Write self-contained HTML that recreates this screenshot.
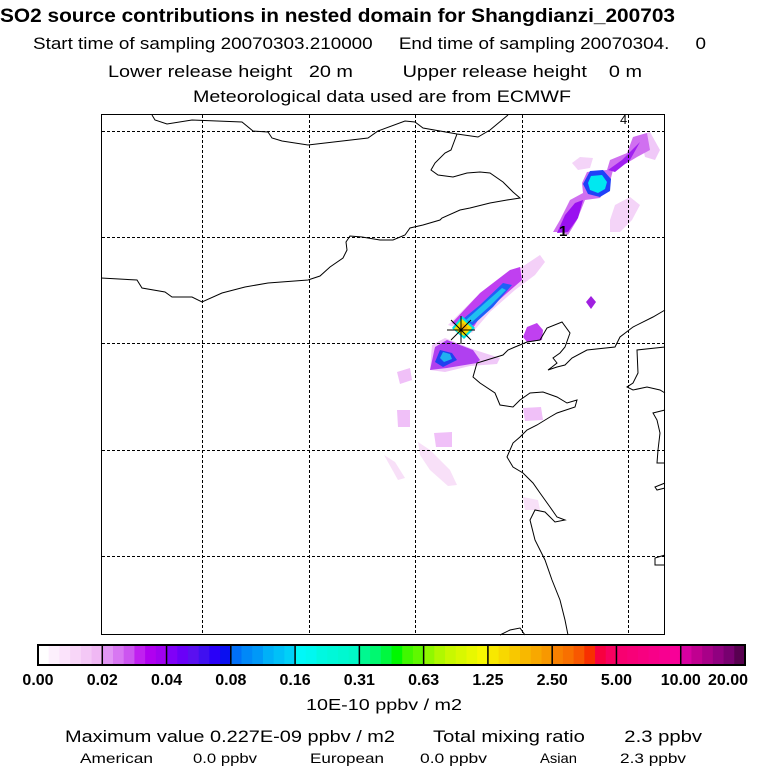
<!DOCTYPE html>
<html><head><meta charset="utf-8"><style>
html,body{margin:0;padding:0;background:#fff;}
svg{display:block;font-family:"Liberation Sans",sans-serif;}
</style></head><body>
<svg id="chart" width="768" height="768" viewBox="0 0 768 768" xmlns="http://www.w3.org/2000/svg">
<g fill="#000">
<text x="0" y="22" font-size="19" font-weight="bold" textLength="675" lengthAdjust="spacingAndGlyphs">SO2 source contributions in nested domain for Shangdianzi_200703</text>
<text x="33" y="49" font-size="17" textLength="673" lengthAdjust="spacingAndGlyphs" xml:space="preserve">Start time of sampling 20070303.210000     End time of sampling 20070304.     0</text>
<text x="108" y="77" font-size="17" textLength="534" lengthAdjust="spacingAndGlyphs" xml:space="preserve">Lower release height   20 m         Upper release height    0 m</text>
<text x="193" y="102" font-size="17" textLength="378" lengthAdjust="spacingAndGlyphs">Meteorological data used are from ECMWF</text>
</g>
<g id="map">
<rect x="101" y="114" width="564" height="521" fill="#fff"/>
<g id="plume"></g>
<g fill="none" stroke="#000" stroke-width="1">
<path d="M152,115 L155,120 L167,124 L192,120 L242,122 L253,131 L268,132 L272,138 L282,141 L308,145 L368,138 L378,131 L405,121 L415,122 L423,128 L457,134 L478,137 L490,130 L508,115"/>
<path d="M457,134 L451,150 L445,153 L435,163 L431,170 L438,175 L453,177 L467,173 L480,172 L490,173 L503,182 L513,192 L520,198 L507,200 L490,203 L470,208 L460,210 L442,218 L440,220 L423,225 L410,228 L405,235 L393,240 L380,240 L362,237 L350,236 L346,242 L347,250 L343,258 L330,267 L320,276 L308,280 L268,283 L245,287 L222,293 L202,302 L192,297 L172,297 L165,292 L142,288 L137,280 L101,278"/>
<path d="M665,310 L653,317 L633,327 L620,337 L615,347 L587,350 L572,358 L565,365 L557,367 L548,370 L552,367 L557,363 L553,358 L560,353 L565,347 L570,333 L562,322 L547,328 L540,340 L527,342 L515,347 L508,350 L503,355 L477,363 L473,377 L480,383 L495,393 L500,405 L513,407 L520,400 L530,393 L543,392 L557,397 L567,403 L577,400 L575,407 L557,413 L550,417 L537,425 L527,430 L520,437 L513,443 L507,457 L513,467 L523,473 L533,483 L540,493 L550,507 L557,517 L565,520 L555,522 L545,512 L535,510 L530,520 L535,540 L545,560 L552,580 L560,600 L565,620 L568,635"/>
<path d="M665,347 L637,350 L638,373 L633,383 L627,387 L633,390 L647,387 L660,390 L665,393"/>
<path d="M665,410 L653,413 L657,420 L660,433 L658,450 L657,463 L665,463"/>
<path d="M665,483 L655,487 L657,490 L665,488"/>
<path d="M665,555 L655,558 L655,565 L665,565"/>
<path d="M525,635 L520,628 L510,630 L500,635"/>
</g>
<g id="grid" stroke="#000" stroke-width="1" stroke-dasharray="3,2"></g>
<rect x="101.5" y="114.5" width="563" height="520" fill="none" stroke="#000" stroke-width="1"/>
<g stroke="#000" stroke-width="1">
<line x1="451" y1="320" x2="471" y2="340"/><line x1="451" y1="340" x2="471" y2="320"/>
<line x1="461" y1="316" x2="461" y2="344"/><line x1="447" y1="330" x2="475" y2="330"/>
</g>
<text x="559" y="236" font-size="15" font-weight="bold">1</text>
<text x="620" y="124" font-size="13">4</text>
</g>
<g id="colorbar"></g>
<text x="306" y="710" font-size="16" textLength="156" lengthAdjust="spacingAndGlyphs">10E-10 ppbv / m2</text>
<g fill="#000">
<text x="65" y="742" font-size="17" textLength="330" lengthAdjust="spacingAndGlyphs">Maximum value  0.227E-09 ppbv / m2</text>
<text x="433" y="742" font-size="17" textLength="269" lengthAdjust="spacingAndGlyphs" xml:space="preserve">Total mixing ratio       2.3 ppbv</text>
<text x="80" y="763" font-size="14" textLength="73" lengthAdjust="spacingAndGlyphs">American</text>
<text x="193" y="763" font-size="14" textLength="64" lengthAdjust="spacingAndGlyphs">0.0 ppbv</text>
<text x="310" y="763" font-size="14" textLength="74" lengthAdjust="spacingAndGlyphs">European</text>
<text x="420" y="763" font-size="14" textLength="67" lengthAdjust="spacingAndGlyphs">0.0 ppbv</text>
<text x="540" y="763" font-size="14" textLength="37" lengthAdjust="spacingAndGlyphs">Asian</text>
<text x="620" y="763" font-size="14" textLength="66" lengthAdjust="spacingAndGlyphs">2.3 ppbv</text>
</g>
</svg>
<script>
const gridLonX = [202, 309, 415, 522, 628];
const gridLatY = [131, 237, 343, 450, 556];
const colorbarLabels = ["0.00","0.02","0.04","0.08","0.16","0.31","0.63","1.25","2.50","5.00","10.00","20.00"];
const colorbarColors = [
 ["#ffffff","#fdf0fd","#fbe3fb","#f8d6f8","#f4c8f6","#f0b8f4"],
 ["#e296f4","#d877f2","#cc55f0","#c020f0","#b000f0","#a000f0"],
 ["#8000f8","#6a00f8","#5a10f0","#4010f0","#2a00f8","#0a10f0"],
 ["#0070f8","#0088f8","#0098f8","#00b0f8","#00c0f8","#00d0f8"],
 ["#00f8f8","#00f8f0","#00f8e0","#00f8d8","#00f8d0","#00f8c8"],
 ["#00f890","#00f870","#00f840","#00f800","#40f800","#60f800"],
 ["#90f800","#b0f800","#c8f800","#d8f800","#e8f800","#f8f800"],
 ["#f8e800","#f8d800","#f8c800","#f8b800","#f8a800","#f89800"],
 ["#f88000","#f87000","#f85800","#f83000","#f80040","#f80060"],
 ["#f80070","#f80078","#f80080","#f80088","#f80090","#f80098"],
 ["#d800a0","#c00090","#a80088","#900080","#780070","#580050"]
];
const NS = "http://www.w3.org/2000/svg";
const grid = document.getElementById('grid');
for (const x of gridLonX) {
  const l = document.createElementNS(NS,'line');
  l.setAttribute('x1', x+0.5); l.setAttribute('x2', x+0.5); l.setAttribute('y1', 115); l.setAttribute('y2', 634);
  
  
  grid.appendChild(l);
}
for (const y of gridLatY) {
  const l = document.createElementNS(NS,'line');
  l.setAttribute('y1', y+0.5); l.setAttribute('y2', y+0.5); l.setAttribute('x1', 102); l.setAttribute('x2', 664);
  
  
  grid.appendChild(l);
}
const plumePatches = [
 ["#f4d4f8","M572,163 L580,157 L593,158 L590,168 L578,170 Z"],
 ["#f0c8f8","M640,135 L650,132 L660,150 L655,160 L645,157 Z"],
 ["#f4d4f8","M610,220 L615,205 L630,197 L640,205 L632,220 L620,232 L610,232 Z"],
 ["#d070f0","M562,232 L553,232 L560,220 L570,200 L583,193 L582,183 L587,172 L607,170 L610,160 L627,153 L633,137 L647,133 L650,150 L637,157 L627,163 L613,170 L610,182 L600,198 L585,200 L577,220 L568,235 Z"],
 ["#9a10f0","M557,233 L565,215 L575,203 L583,200 L578,218 L568,232 Z"],
 ["#a020f0","M608,170 L622,160 L632,150 L640,142 L630,160 L615,172 Z"],
 ["#2040f8","M590,171 L603,170 L611,179 L610,191 L600,197 L588,194 L583,184 Z"],
 ["#00e8f0","M591,176 L602,175 L607,182 L605,189 L598,193 L590,190 L588,183 Z"],
 ["#f4d0f8","M448,325 L475,298 L505,275 L525,265 L540,255 L545,262 L535,275 L515,290 L490,312 L472,333 Z"],
 ["#c040f0","M452,323 L480,293 L510,270 L520,267 L522,280 L507,293 L480,317 L470,333 Z"],
 ["#2060f8","M458,323 L480,305 L503,283 L512,285 L493,307 L473,325 Z"],
 ["#20c0f0","M466,320 L485,303 L502,288 L506,290 L490,306 L472,322 Z"],
 ["#f0c8f8","M430,370 L432,345 L445,338 L475,350 L500,358 L497,364 L470,366 L445,372 Z"],
 ["#b040f0","M430,370 L435,347 L447,340 L473,350 L480,360 L477,363 L447,368 Z"],
 ["#2040f0","M435,362 L440,350 L452,353 L457,360 L443,367 Z"],
 ["#20b0f0","M440,358 L443,352 L450,354 L452,359 L444,362 Z"],
 ["#00e0e0","M452,328 L462,316 L475,328 L464,339 Z"],
 ["#f0e000","M454,329 L462,319 L472,328 L464,336 Z"],
 ["#f8b000","M459,328 L463,323 L468,328 L463,332 Z"],
 ["#c040f0","M523,337 L527,327 L537,323 L543,330 L542,340 L527,342 Z"],
 ["#a020e0","M586,302 L591,296 L596,302 L591,309 Z"],
 ["#f0c0f8","M397,372 L410,368 L412,380 L400,384 Z"],
 ["#f0c0f8","M397,410 L410,410 L410,427 L398,427 Z"],
 ["#f0c0f8","M434,433 L452,432 L452,447 L436,447 Z"],
 ["#f0c0f8","M523,408 L541,407 L543,420 L525,421 Z"],
 ["#f8e0f8","M384,455 L395,462 L405,478 L398,480 Z"],
 ["#f8e0f8","M418,442 L430,450 L450,470 L457,485 L448,486 L430,470 L420,455 Z"],
 ["#f8e0f8","M523,497 L538,500 L540,510 L525,510 Z"]
];
const plume = document.getElementById('plume');
for (const [c,d] of plumePatches) {
  const p = document.createElementNS(NS,'path');
  p.setAttribute('d', d); p.setAttribute('fill', c);
  
  
  plume.appendChild(p);
}
const cb = document.getElementById('colorbar');
const cbX0 = 38, cbX1 = 745, cbY = 645, cbH = 20;
const segW = (cbX1 - cbX0) / colorbarColors.length;
colorbarColors.forEach((seg, i) => {
  seg.forEach((c, j) => {
    const r = document.createElementNS(NS,'rect');
    r.setAttribute('x', cbX0 + i*segW + j*segW/seg.length);
    r.setAttribute('y', cbY); r.setAttribute('width', segW/seg.length + 0.5); r.setAttribute('height', cbH);
    r.setAttribute('fill', c);
    
    
    cb.appendChild(r);
  });
});
for (let i = 1; i < colorbarColors.length; i++) {
  const l = document.createElementNS(NS,'line');
  const x = cbX0 + i*segW;
  l.setAttribute('x1', x); l.setAttribute('x2', x); l.setAttribute('y1', cbY); l.setAttribute('y2', cbY+cbH);
  l.setAttribute('stroke', '#000'); l.setAttribute('stroke-width', '1.5');
  
  
  cb.appendChild(l);
}
const frame = document.createElementNS(NS,'rect');
frame.setAttribute('x', cbX0); frame.setAttribute('y', cbY); frame.setAttribute('width', cbX1-cbX0); frame.setAttribute('height', cbH);
frame.setAttribute('fill', 'none'); frame.setAttribute('stroke', '#000'); frame.setAttribute('stroke-width', '2');


cb.appendChild(frame);
colorbarLabels.forEach((lab, i) => {
  const t = document.createElementNS(NS,'text');
  let x = cbX0 + i*segW;
  if (i === 0) x = Math.max(x, 21);
  if (i === colorbarLabels.length - 1) x = Math.min(x, 728);
  t.setAttribute('x', x); t.setAttribute('y', 685);
  t.setAttribute('text-anchor', 'middle');
  t.setAttribute('font-size', '16'); t.setAttribute('font-weight', 'bold');
  t.textContent = lab;
  
  
  cb.appendChild(t);
});
</script>
</body></html>
